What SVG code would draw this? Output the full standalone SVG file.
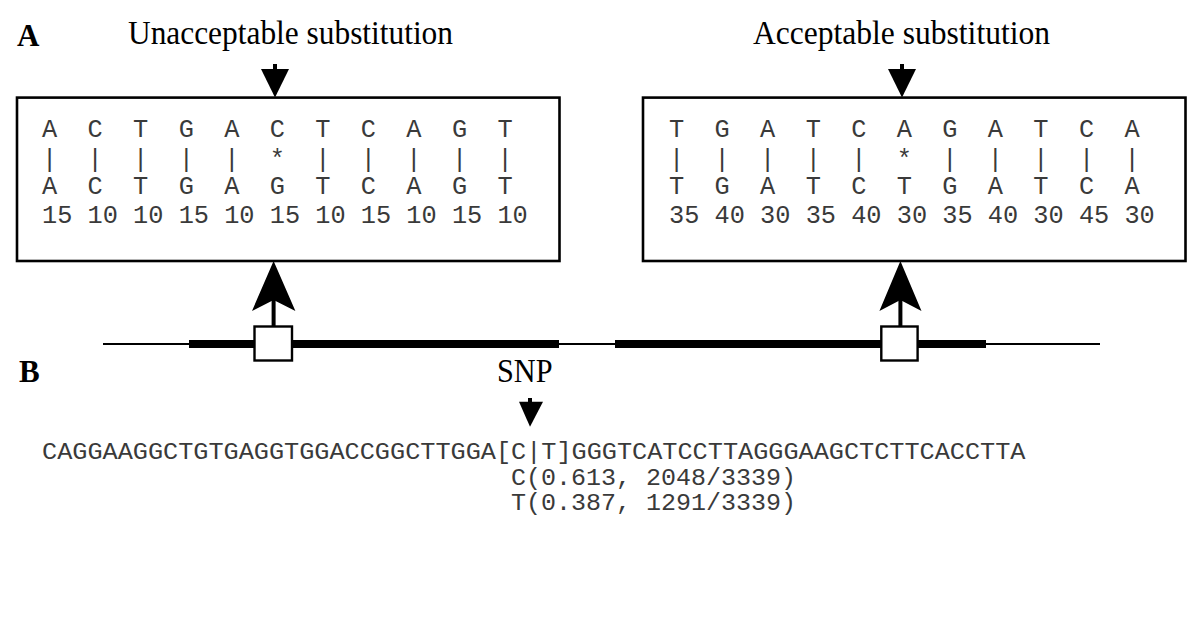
<svg xmlns="http://www.w3.org/2000/svg" width="1200" height="626" viewBox="0 0 1200 626">
<style>
.lbl{font-family:"Liberation Serif","Times New Roman",serif;font-weight:bold;font-size:31px;fill:#000}
.ttl{font-family:"Liberation Serif","Times New Roman",serif;font-size:33px;fill:#000}
.mono{font-family:"Liberation Mono","Courier New",monospace;font-size:25.3px;fill:#3a3a3a;white-space:pre}
.seq{font-family:"Liberation Mono","Courier New",monospace;font-size:23.5px;fill:#3a3a3a;white-space:pre}
.box{fill:#fff;stroke:#000;stroke-width:2.6}
.sq{fill:#fff;stroke:#000;stroke-width:2.4}
.thin{stroke:#000;stroke-width:2;fill:none}
.thick{stroke:#000;stroke-width:8;fill:none}
.shaft{stroke:#000;stroke-width:4;fill:none}
.head{fill:#000;stroke:none}
</style>
<rect x="0" y="0" width="1200" height="626" fill="#fff"/>

<g id="panelA-label"><text class="lbl" x="17" y="46">A</text></g>
<g id="title-unacceptable"><text class="ttl" x="128" y="44" textLength="325" lengthAdjust="spacingAndGlyphs">Unacceptable substitution</text></g>
<g id="title-acceptable"><text class="ttl" x="753" y="44" textLength="297" lengthAdjust="spacingAndGlyphs">Acceptable substitution</text></g>

<g id="box-unacceptable">
<rect class="box" x="17" y="97.6" width="542.5" height="163.4"/>
<text class="mono" xml:space="preserve" x="42" y="136.6">A  C  T  G  A  C  T  C  A  G  T</text>
<text class="mono" xml:space="preserve" x="42" y="167">|  |  |  |  |  *  |  |  |  |  |</text>
<text class="mono" xml:space="preserve" x="42" y="194">A  C  T  G  A  G  T  C  A  G  T</text>
<text class="mono" xml:space="preserve" x="42" y="222.7">15 10 10 15 10 15 10 15 10 15 10</text>
</g>

<g id="box-acceptable">
<rect class="box" x="643" y="97.6" width="542.5" height="163.4"/>
<text class="mono" xml:space="preserve" x="669" y="136.6">T  G  A  T  C  A  G  A  T  C  A</text>
<text class="mono" xml:space="preserve" x="669" y="167">|  |  |  |  |  *  |  |  |  |  |</text>
<text class="mono" xml:space="preserve" x="669" y="194">T  G  A  T  C  T  G  A  T  C  A</text>
<text class="mono" xml:space="preserve" x="669" y="222.7">35 40 30 35 40 30 35 40 30 45 30</text>
</g>

<g id="gene">
<line class="thin" x1="103" y1="344" x2="1100" y2="344"/>
<line class="thick" x1="189" y1="344" x2="559" y2="344"/>
<line class="thick" x1="615" y1="344" x2="986" y2="344"/>
</g>

<g id="connectors">
<line class="shaft" x1="275" y1="64" x2="275" y2="70"/>
<path class="head" d="M261,69 L289,69 L275,97.6 Z"/>
<line class="shaft" x1="902" y1="64" x2="902" y2="70"/>
<path class="head" d="M888,69 L916,69 L902,97.6 Z"/>
<line class="shaft" x1="273.6" y1="298" x2="273.6" y2="327"/>
<path class="head" d="M273.6,261 L295.4,311 L273.6,300 L252,311 Z"/>
<line class="shaft" x1="900.4" y1="298" x2="900.4" y2="327"/>
<path class="head" d="M900.4,261 L921.5,311 L900.4,300 L879.4,311 Z"/>
<line class="shaft" x1="530" y1="398" x2="530" y2="403"/>
<path class="head" d="M519,401.7 L543,401.7 L530,426.7 Z"/>
</g>

<g id="site-unacceptable"><rect class="sq" x="254.5" y="326.5" width="37.5" height="34"/></g>
<g id="site-acceptable"><rect class="sq" x="881.3" y="326.5" width="36.3" height="34"/></g>

<g id="panelB-label"><text class="lbl" x="19" y="382">B</text></g>
<g id="snp-label"><text class="ttl" x="497" y="382" textLength="55.5" lengthAdjust="spacingAndGlyphs">SNP</text></g>

<g id="sequence">
<text class="seq" xml:space="preserve" x="42" y="459.3" textLength="983.5" lengthAdjust="spacingAndGlyphs">CAGGAAGGCTGTGAGGTGGACCGGCTTGGA[C|T]GGGTCATCCTTAGGGAAGCTCTTCACCTTA</text>
<text class="seq" xml:space="preserve" x="511" y="484.5" textLength="285" lengthAdjust="spacingAndGlyphs">C(0.613, 2048/3339)</text>
<text class="seq" xml:space="preserve" x="511" y="510" textLength="285" lengthAdjust="spacingAndGlyphs">T(0.387, 1291/3339)</text>
</g>
</svg>
